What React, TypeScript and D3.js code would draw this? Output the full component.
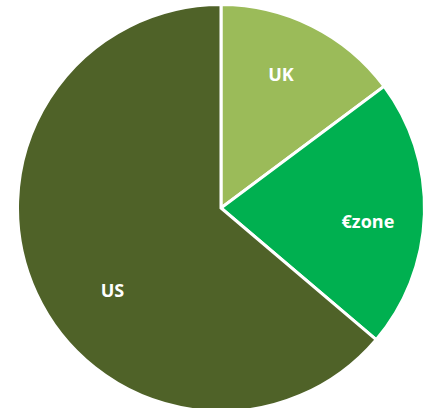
import React from "react";
import * as d3 from "d3";

const categories = ["UK", "€zone", "US"];
const values = [14.8, 21.4, 63.8];
const colors = ["#9BBB59", "#00B050", "#4F6228"];

// small label nudges (px) relative to the slice centroid, to mimic the original layout
const labelNudge: Record<string, [number, number]> = {
  UK: [-5, -4],
  "€zone": [2, 8],
  US: [23, 21],
};

export default function App() {
  const width = 435;
  const height = 408;
  const cx = 221;
  const cy = 208;
  const r = 203.5;
  const pie = d3.pie<number>().sort(null).value((d) => d);
  const arcs = pie(values);
  const arc = d3.arc<d3.PieArcDatum<number>>().innerRadius(0).outerRadius(r);
  const labelArc = d3.arc<d3.PieArcDatum<number>>().innerRadius(145).outerRadius(145);
  return (
    <svg
      width={width}
      height={height}
      style={{ position: "absolute", left: 0, top: 0, background: "#fff" }}
    >
      <g transform={`translate(${cx},${cy})`}>
        {arcs.map((a, i) => (
          <path key={categories[i]} d={arc(a) || ""} fill={colors[i]} stroke="#fff" strokeWidth={3} strokeLinejoin="miter" />
        ))}
        {arcs.map((a, i) => {
          const [x, y] = labelArc.centroid(a);
          const [nx, ny] = labelNudge[categories[i]] || [0, 0];
          return (
            <text
              key={"l" + categories[i]}
              x={x + nx}
              y={y + ny}
              textAnchor="middle"
              dominantBaseline="central"
              fill="#fff"
              fontFamily="'Open Sans', sans-serif"
              fontWeight={700}
              fontSize={18}
            >
              {categories[i]}
            </text>
          );
        })}
      </g>
    </svg>
  );
}
